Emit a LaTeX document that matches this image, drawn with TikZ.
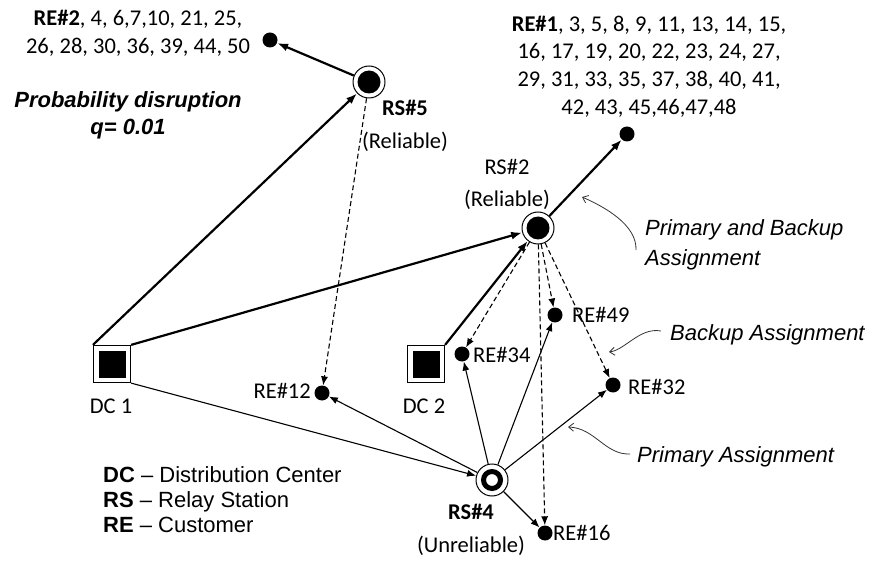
\documentclass[tikz,border=0pt]{standalone}
\usepackage{fontspec}
\setmainfont{Carlito}
\newfontfamily\arialfont[Ligatures=TeX]{Liberation Sans}
\usetikzlibrary{arrows.meta}

\begin{document}
\begin{tikzpicture}[x=1pt,y=-1pt,
  every node/.style={inner sep=0pt},
  lbl/.style={font=\fontsize{22.5}{27.7}\selectfont, align=center},
  note/.style={font=\arialfont\itshape\fontsize{22}{30}\selectfont, align=left},
  relay/.style={circle, draw, line width=1pt, fill=white, minimum size=32pt},
  relrs/.style={relay, path picture={\fill[black] (path picture bounding box.center) circle (11.5pt);}},
  unrelrs/.style={relay, path picture={\draw[black, line width=5pt] (path picture bounding box.center) circle (8.5pt);}},
  depot/.style={rectangle, draw, line width=1.2pt, fill=white, minimum size=37pt,
    path picture={\fill[black] (path picture bounding box.center) ++(-13.5pt,-13.5pt) rectangle ++(27pt,27pt);}},
  cust/.style={circle, fill, minimum size=15pt},
  strong/.style={line width=2.2pt, -{Latex[length=11pt,width=8pt]}},
  prim/.style={line width=1.1pt, -{Latex[length=9pt,width=7pt]}},
  backup/.style={line width=1.1pt, dash pattern=on 5pt off 3pt, -{Latex[length=9pt,width=7pt]}},
  pointer/.style={line width=0.8pt, draw=black!80, -{Straight Barb[length=5pt,width=8pt]}}
]
\useasboundingbox (0,0) rectangle (875,561);

% depots, relay stations and customers
\node[depot] (dc1) at (112,364) {};
\node[depot] (dc2) at (426,364) {};
\node[relrs] (rs5) at (369,82) {};
\node[relrs] (rs2) at (538,228) {};
\node[unrelrs] (rs4) at (492,480) {};
\node[cust] (ca) at (270,40) {};
\node[cust] (cb) at (627,134) {};
\node[cust] (re12) at (322,393) {};
\node[cust] (re34) at (462,354) {};
\node[cust] (re49) at (555,315) {};
\node[cust] (re32) at (613,385) {};
\node[cust] (re16) at (545,533) {};

% labels
\node[lbl] (la) at (138,33.5) {\textbf{RE\#2}, 4, 6,7,10, 21, 25,\\26, 28, 30, 36, 39, 44, 50};
\node[lbl] (lb) at (649,66.5) {\textbf{RE\#1}, 3, 5, 8, 9, 11, 13, 14, 15,\\16, 17, 19, 20, 22, 23, 24, 27,\\29, 31, 33, 35, 37, 38, 40, 41,\\42, 43, 45,46,47,48};
\node[lbl] (l5) at (405,126) {\textbf{RS\#5}\\[5pt](Reliable)};
\node[lbl] (l2) at (507,184.5) {RS\#2\\[5pt](Reliable)};
\node[lbl] (l4) at (471,530) {\textbf{RS\#4}\\[5pt](Unreliable)};
\node[lbl] (ld1) at (111,406) {DC 1};
\node[lbl] (ld2) at (424,406) {DC 2};
\node[lbl, anchor=east] (l12) at (311,391) {RE\#12};
\node[lbl, anchor=west] (l34) at (473,355) {RE\#34};
\node[lbl, anchor=west] (l49) at (572,315) {RE\#49};
\node[lbl, anchor=west] (l32) at (628,387) {RE\#32};
\node[lbl, anchor=west] (l16) at (553,533) {RE\#16};

\node[font=\arialfont\bfseries\itshape\fontsize{22}{27}\selectfont, align=center] (prob) at (128,115) {Probability disruption\\q= 0.01};
\node[font=\arialfont\fontsize{22}{25}\selectfont, align=left, anchor=west] (legend) at (103,500)
  {\textbf{DC} – Distribution Center\\\textbf{RS} – Relay Station\\\textbf{RE} – Customer};

% primary and backup assignments
\draw[strong] (dc1.north west) -- (rs5);
\draw[strong] (dc1.north east) -- (rs2);
\draw[strong] (dc2.north east) -- (rs2);
\draw[strong] (rs5) -- (ca);
\draw[strong] (rs2) -- (cb);

% primary assignments
\draw[prim] (dc1.south east) -- (rs4);
\draw[prim] (rs4) -- (re12);
\draw[prim] (rs4) -- (re34);
\draw[prim] (rs4) -- (re49);
\draw[prim] (rs4) -- (re32);
\draw[prim] (rs4) -- (re16);

% backup assignments
\draw[backup] (rs5) -- (re12);
\draw[backup] (rs2) -- (re34);
\draw[backup] (rs2) -- (re49);
\draw[backup] (rs2) -- (re32);
\draw[backup] (rs2) -- (re16);

% annotations
\node[note, anchor=west] (nboth) at (645,245) {Primary and Backup\\Assignment};
\node[note, anchor=west] (nbak) at (670,335) {Backup Assignment};
\node[note, anchor=west] (nprim) at (637,457) {Primary Assignment};

\coordinate (s1) at (636,250);
\coordinate (t1) at (582,197);
\coordinate (s2) at (661,331);
\coordinate (t2) at (609,352);
\coordinate (s3) at (630,454);
\coordinate (t3) at (568,427);
\draw[pointer] (s1) .. controls (637,225) and (605,207) .. (t1);
\draw[pointer] (s2) .. controls (640,327) and (625,350) .. (t2);
\draw[pointer] (s3) .. controls (605,455) and (595,428) .. (t3);
\end{tikzpicture}
\end{document}
